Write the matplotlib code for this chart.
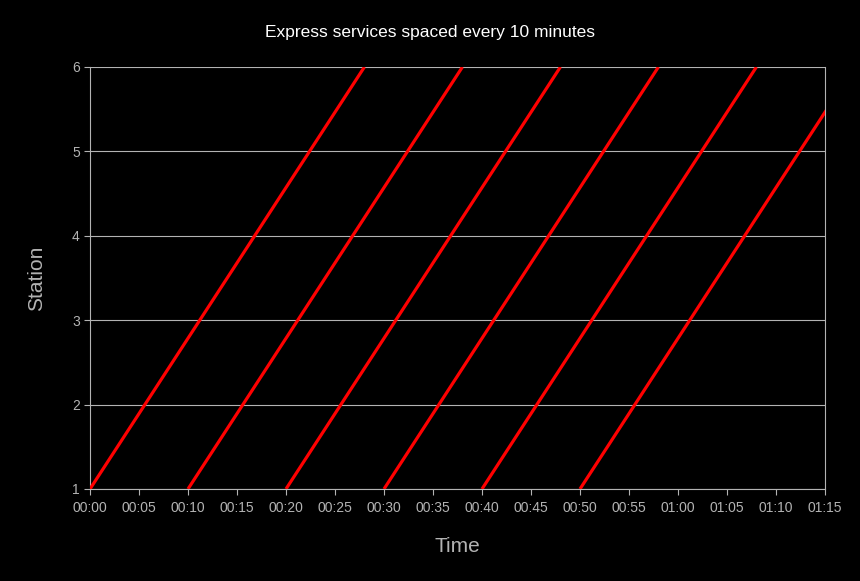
"""Express service time-distance chart: six trains every 10 minutes."""

import matplotlib
matplotlib.use("Agg")
import matplotlib.pyplot as plt
from matplotlib.ticker import FuncFormatter, MultipleLocator

# departure times (minutes after 00:00) of each express service
departures = [0, 10, 20, 30, 40, 50]
# minutes after departure at which each station is reached
station_offsets = [0.0, 5.6, 11.2, 16.8, 22.4, 28.0]
stations = [1, 2, 3, 4, 5, 6]

plt.rcParams["font.family"] = ["Liberation Sans", "DejaVu Sans"]

fig = plt.figure(figsize=(8.6, 5.81), dpi=100, facecolor="black")
ax = fig.add_axes([90 / 860, 1 - 489 / 581, 735 / 860, 422 / 581])
ax.set_facecolor("black")

for dep in departures:
    times = [dep + off for off in station_offsets]
    ax.plot(times, stations, color="#ff0000", linewidth=2.3, solid_capstyle="butt",
            zorder=3)

grey = "#b3b3b3"
ax.set_xlim(0, 75)
ax.set_ylim(1, 6)
ax.xaxis.set_major_locator(MultipleLocator(5))
ax.yaxis.set_major_locator(MultipleLocator(1))
ax.xaxis.set_major_formatter(
    FuncFormatter(lambda v, _: f"{int(v) // 60:02d}:{int(v) % 60:02d}"))
ax.grid(True, axis="y", color=grey, linewidth=0.8)
ax.tick_params(colors=grey, labelcolor=grey, labelsize=10, length=4.3, width=0.8,
               pad=3)
ax.tick_params(axis="x", pad=4.5)
for side in ["left", "right", "bottom"]:
    ax.spines[side].set_color(grey)
    ax.spines[side].set_linewidth(0.8)
ax.spines["top"].set_visible(False)

ax.set_xlabel("Time", color=grey, fontsize=15, labelpad=16)
ax.set_ylabel("Station", color=grey, fontsize=15, labelpad=19)
fig.text(0.5, 1 - 32 / 581, "Express services spaced every 10 minutes",
         color="white", fontsize=12.5, ha="center", va="center")

fig.savefig("out.png", dpi=100, facecolor="black")
